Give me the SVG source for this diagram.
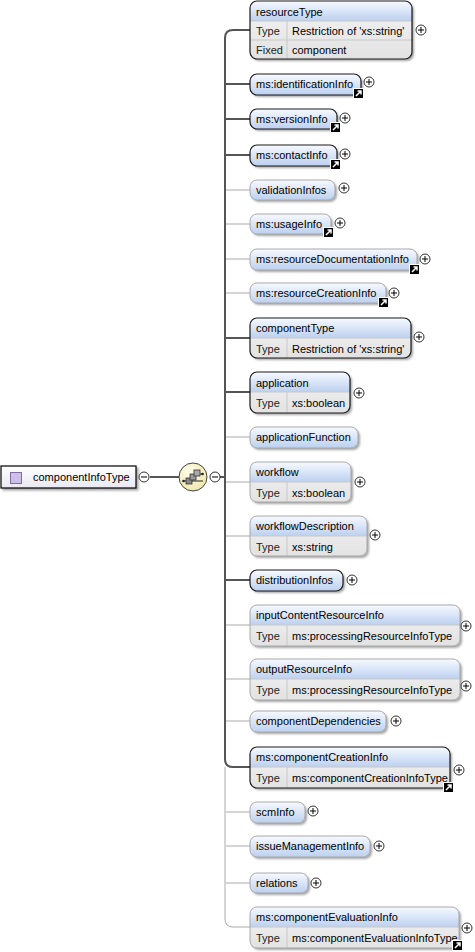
<svg xmlns="http://www.w3.org/2000/svg" xmlns:xlink="http://www.w3.org/1999/xlink" width="475" height="952" viewBox="0 0 475 952">
<defs>
<linearGradient id="gh" x1="0" y1="0" x2="0" y2="1"><stop offset="0" stop-color="#f7faff"/><stop offset="1" stop-color="#bcd0f0"/></linearGradient>
<linearGradient id="gr" x1="0" y1="0" x2="0" y2="1"><stop offset="0" stop-color="#f4f4f4"/><stop offset="1" stop-color="#e2e2e2"/></linearGradient>
<linearGradient id="gt" x1="0" y1="0" x2="0" y2="1"><stop offset="0" stop-color="#ffffff"/><stop offset="1" stop-color="#ebe8f2"/></linearGradient>
<radialGradient id="gs" cx="0.4" cy="0.35" r="0.7"><stop offset="0" stop-color="#fffef0"/><stop offset="1" stop-color="#eee6a6"/></radialGradient>
<filter id="ds" x="-10%" y="-10%" width="130%" height="140%"><feDropShadow dx="2" dy="2" stdDeviation="1" flood-color="#000" flood-opacity="0.35"/></filter>
<g id="plus"><circle r="5" fill="#fff" stroke="#333" stroke-width="1"/><path d="M-3,0H3M0,-3V3" stroke="#000" stroke-width="1"/></g>
<g id="minus"><circle r="5" fill="#fff" stroke="#333" stroke-width="1"/><path d="M-3,0H3" stroke="#000" stroke-width="1"/></g>
<g id="ref"><rect x="0" y="0" width="11" height="11" fill="#fff"/><rect x="1" y="1" width="9" height="9" fill="#000"/><path d="M3,8L7.5,3.5M4.5,3H8V6.5" fill="none" stroke="#fff" stroke-width="1.5"/></g>
</defs>
<style>
text{font-family:"Liberation Sans",Arial,sans-serif;font-size:11px;fill:#000}
.hb{fill:url(#gh)}
.rb{fill:url(#gr)}
.req{fill:none;stroke:#1a1a1a;stroke-width:1.2}
.opt{fill:none;stroke:#a8a8a8;stroke-width:1}
.sep{stroke:#c8c8c8;stroke-width:1}
.thick{fill:none;stroke:#555;stroke-width:2}
.thin{fill:none;stroke:#aaa;stroke-width:1}
.lbl{fill:#222}
</style>
<rect width="475" height="952" fill="#fff"/>

<g id="connectors">
<path class="thick" d="M150,477H179"/>
<path class="thick" d="M220,477H225"/>
<path class="thick" d="M250,30H233Q225,30 225,38V759Q225,767 233,767H250"/>
<path class="thin" d="M225,767V919Q225,927 233,927H250"/>
<path class="thick" d="M225,84H250M225,119H250M225,155H250M225,338H250M225,392H250M225,580H250"/>
<path class="thin" d="M226,190H250M226,224H250M226,259H250M226,293H250M226,437H250M226,482H250M226,536H250M226,625H250M226,679H250M226,721H250M226,812H250M226,846H250M226,883H250"/>
</g>

<g id="componentInfoType">
<rect x="1" y="466" width="135" height="22" fill="url(#gt)" stroke="#000" stroke-width="1.2" filter="url(#ds)"/>
<rect x="10.5" y="472.5" width="11" height="11" fill="#cdbfe6" stroke="#7f6ea3"/>
<text x="33" y="481">componentInfoType</text>
<use xlink:href="#minus" x="144" y="477"/>
</g>

<g id="sequence">
<circle cx="193" cy="477" r="14" fill="url(#gs)" stroke="#444" stroke-width="1"/>
<path d="M183,481H203" stroke="#222" stroke-width="1"/>
<circle cx="183.5" cy="481" r="1.3" fill="#222"/>
<circle cx="202.5" cy="474" r="1.3" fill="#222"/>
<path d="M199,474H202.5" stroke="#222"/>
<rect x="186" y="478" width="6" height="6" fill="#888" stroke="#333" stroke-width="0.8"/>
<rect x="190" y="474" width="6" height="6" fill="#999" stroke="#333" stroke-width="0.8"/>
<rect x="194" y="470" width="6" height="6" fill="#aaa" stroke="#333" stroke-width="0.8"/>
<use xlink:href="#minus" x="215" y="477"/>
</g>

<g id="resourceType">
<rect class="rb" x="250" y="1" width="162" height="58" rx="7" filter="url(#ds)"/>
<path class="hb" d="M250,21V8Q250,1 257,1H405Q412,1 412,8V21Z"/>
<path class="sep" d="M250,21H412M250,40H412M287,21V59"/>
<rect class="req" x="250" y="1" width="162" height="58" rx="7"/>
<text x="256" y="16">resourceType</text>
<text class="lbl" x="256" y="35">Type</text><text x="292" y="35">Restriction of 'xs:string'</text>
<text class="lbl" x="256" y="54">Fixed</text><text x="292" y="54">component</text>
<use xlink:href="#plus" x="421" y="30"/>
</g>

<g id="identificationInfo">
<rect class="hb" x="250" y="74" width="111" height="21" rx="7" filter="url(#ds)"/>
<rect class="req" x="250" y="74" width="111" height="21" rx="7"/>
<text x="256" y="88">ms:identificationInfo</text>
<use xlink:href="#ref" x="353" y="88"/>
<use xlink:href="#plus" x="369" y="82"/>
</g>

<g id="versionInfo">
<rect class="hb" x="250" y="109" width="87" height="20" rx="7" filter="url(#ds)"/>
<rect class="req" x="250" y="109" width="87" height="20" rx="7"/>
<text x="256" y="123">ms:versionInfo</text>
<use xlink:href="#ref" x="330" y="122"/>
<use xlink:href="#plus" x="345" y="118"/>
</g>

<g id="contactInfo">
<rect class="hb" x="250" y="145" width="87" height="21" rx="7" filter="url(#ds)"/>
<rect class="req" x="250" y="145" width="87" height="21" rx="7"/>
<text x="256" y="159">ms:contactInfo</text>
<use xlink:href="#ref" x="330" y="159"/>
<use xlink:href="#plus" x="345" y="154"/>
</g>

<g id="validationInfos">
<rect class="hb" x="250" y="180" width="85" height="20" rx="7" filter="url(#ds)"/>
<rect class="opt" x="250" y="180" width="85" height="20" rx="7"/>
<text x="256" y="194">validationInfos</text>
<use xlink:href="#plus" x="344" y="188"/>
</g>

<g id="usageInfo">
<rect class="hb" x="250" y="214" width="81" height="20" rx="7" filter="url(#ds)"/>
<rect class="opt" x="250" y="214" width="81" height="20" rx="7"/>
<text x="256" y="228">ms:usageInfo</text>
<use xlink:href="#ref" x="323" y="227"/>
<use xlink:href="#plus" x="340" y="223"/>
</g>

<g id="resourceDocumentationInfo">
<rect class="hb" x="250" y="249" width="167" height="21" rx="7" filter="url(#ds)"/>
<rect class="opt" x="250" y="249" width="167" height="21" rx="7"/>
<text x="256" y="263">ms:resourceDocumentationInfo</text>
<use xlink:href="#ref" x="409" y="264"/>
<use xlink:href="#plus" x="425" y="259"/>
</g>

<g id="resourceCreationInfo">
<rect class="hb" x="250" y="283" width="136" height="20" rx="7" filter="url(#ds)"/>
<rect class="opt" x="250" y="283" width="136" height="20" rx="7"/>
<text x="256" y="297">ms:resourceCreationInfo</text>
<use xlink:href="#ref" x="378" y="297"/>
<use xlink:href="#plus" x="394" y="293"/>
</g>

<g id="componentType">
<rect class="rb" x="250" y="318" width="161" height="40" rx="7" filter="url(#ds)"/>
<path class="hb" d="M250,338V325Q250,318 257,318H404Q411,318 411,325V338Z"/>
<path class="sep" d="M250,338H411M287,338V358"/>
<rect class="req" x="250" y="318" width="161" height="40" rx="7"/>
<text x="256" y="332">componentType</text>
<text class="lbl" x="256" y="353">Type</text><text x="292" y="353">Restriction of 'xs:string'</text>
<use xlink:href="#plus" x="419" y="337"/>
</g>

<g id="application">
<rect class="rb" x="250" y="372" width="100" height="41" rx="7" filter="url(#ds)"/>
<path class="hb" d="M250,392V379Q250,372 257,372H343Q350,372 350,379V392Z"/>
<path class="sep" d="M250,392H350M287,392V413"/>
<rect class="req" x="250" y="372" width="100" height="41" rx="7"/>
<text x="256" y="387">application</text>
<text class="lbl" x="256" y="407">Type</text><text x="292" y="407">xs:boolean</text>
<use xlink:href="#plus" x="359" y="393"/>
</g>

<g id="applicationFunction">
<rect class="hb" x="250" y="427" width="108" height="21" rx="7" filter="url(#ds)"/>
<rect class="opt" x="250" y="427" width="108" height="21" rx="7"/>
<text x="256" y="441">applicationFunction</text>
</g>

<g id="workflow">
<rect class="rb" x="250" y="462" width="101" height="40" rx="7" filter="url(#ds)"/>
<path class="hb" d="M250,482V469Q250,462 257,462H344Q351,462 351,469V482Z"/>
<path class="sep" d="M250,482H351M287,482V502"/>
<rect class="opt" x="250" y="462" width="101" height="40" rx="7"/>
<text x="256" y="476">workflow</text>
<text class="lbl" x="256" y="497">Type</text><text x="292" y="497">xs:boolean</text>
<use xlink:href="#plus" x="360" y="482"/>
</g>

<g id="workflowDescription">
<rect class="rb" x="250" y="516" width="117" height="40" rx="7" filter="url(#ds)"/>
<path class="hb" d="M250,536V523Q250,516 257,516H360Q367,516 367,523V536Z"/>
<path class="sep" d="M250,536H367M287,536V556"/>
<rect class="opt" x="250" y="516" width="117" height="40" rx="7"/>
<text x="256" y="530">workflowDescription</text>
<text class="lbl" x="256" y="551">Type</text><text x="292" y="551">xs:string</text>
<use xlink:href="#plus" x="375" y="535"/>
</g>

<g id="distributionInfos">
<rect class="hb" x="250" y="570" width="93" height="21" rx="7" filter="url(#ds)"/>
<rect class="req" x="250" y="570" width="93" height="21" rx="7"/>
<text x="256" y="584">distributionInfos</text>
<use xlink:href="#plus" x="352" y="580"/>
</g>

<g id="inputContentResourceInfo">
<rect class="rb" x="250" y="605" width="210" height="41" rx="7" filter="url(#ds)"/>
<path class="hb" d="M250,625V612Q250,605 257,605H453Q460,605 460,612V625Z"/>
<path class="sep" d="M250,625H460M287,625V646"/>
<rect class="opt" x="250" y="605" width="210" height="41" rx="7"/>
<text x="256" y="619">inputContentResourceInfo</text>
<text class="lbl" x="256" y="640">Type</text><text x="292" y="640">ms:processingResourceInfoType</text>
<use xlink:href="#plus" x="466" y="626"/>
</g>

<g id="outputResourceInfo">
<rect class="rb" x="250" y="659" width="210" height="41" rx="7" filter="url(#ds)"/>
<path class="hb" d="M250,679V666Q250,659 257,659H453Q460,659 460,666V679Z"/>
<path class="sep" d="M250,679H460M287,679V700"/>
<rect class="opt" x="250" y="659" width="210" height="41" rx="7"/>
<text x="256" y="673">outputResourceInfo</text>
<text class="lbl" x="256" y="694">Type</text><text x="292" y="694">ms:processingResourceInfoType</text>
<use xlink:href="#plus" x="466" y="686"/>
</g>

<g id="componentDependencies">
<rect class="hb" x="250" y="711" width="136" height="21" rx="7" filter="url(#ds)"/>
<rect class="opt" x="250" y="711" width="136" height="21" rx="7"/>
<text x="256" y="725">componentDependencies</text>
<use xlink:href="#plus" x="396" y="721"/>
</g>

<g id="componentCreationInfo">
<rect class="rb" x="250" y="747" width="200" height="41" rx="7" filter="url(#ds)"/>
<path class="hb" d="M250,767V754Q250,747 257,747H443Q450,747 450,754V767Z"/>
<path class="sep" d="M250,767H450M287,767V788"/>
<rect class="req" x="250" y="747" width="200" height="41" rx="7"/>
<text x="256" y="761">ms:componentCreationInfo</text>
<text class="lbl" x="256" y="782">Type</text><text x="292" y="782">ms:componentCreationInfoType</text>
<use xlink:href="#ref" x="443" y="782"/>
<use xlink:href="#plus" x="459" y="770"/>
</g>

<g id="scmInfo">
<rect class="hb" x="250" y="802" width="55" height="21" rx="7" filter="url(#ds)"/>
<rect class="opt" x="250" y="802" width="55" height="21" rx="7"/>
<text x="256" y="816">scmInfo</text>
<use xlink:href="#plus" x="313" y="811"/>
</g>

<g id="issueManagementInfo">
<rect class="hb" x="250" y="836" width="120" height="21" rx="7" filter="url(#ds)"/>
<rect class="opt" x="250" y="836" width="120" height="21" rx="7"/>
<text x="256" y="850">issueManagementInfo</text>
<use xlink:href="#plus" x="379" y="846"/>
</g>

<g id="relations">
<rect class="hb" x="250" y="873" width="58" height="20" rx="7" filter="url(#ds)"/>
<rect class="opt" x="250" y="873" width="58" height="20" rx="7"/>
<text x="256" y="887">relations</text>
<use xlink:href="#plus" x="316" y="883"/>
</g>

<g id="componentEvaluationInfo">
<rect class="rb" x="250" y="907" width="209" height="41" rx="7" filter="url(#ds)"/>
<path class="hb" d="M250,927V914Q250,907 257,907H452Q459,907 459,914V927Z"/>
<path class="sep" d="M250,927H459M287,927V948"/>
<rect class="opt" x="250" y="907" width="209" height="41" rx="7"/>
<text x="256" y="921">ms:componentEvaluationInfo</text>
<text class="lbl" x="256" y="942">Type</text><text x="292" y="942">ms:componentEvaluationInfoType</text>
<use xlink:href="#ref" x="452" y="940"/>
<use xlink:href="#plus" x="467" y="928"/>
</g>
</svg>
